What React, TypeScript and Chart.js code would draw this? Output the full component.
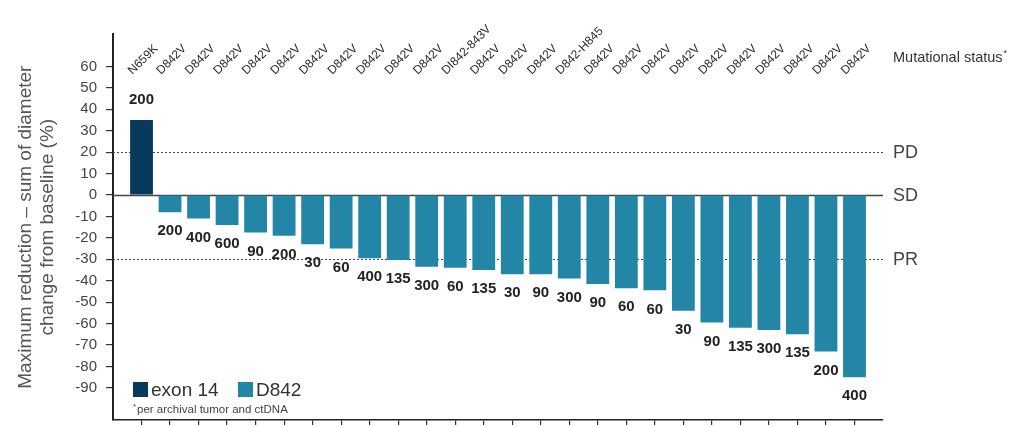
import React, { useEffect, useRef } from 'react';
import { Chart, registerables } from 'chart.js';

Chart.register(...registerables);

const mutations = [
  'N659K', 'D842V', 'D842V', 'D842V', 'D842V', 'D842V', 'D842V', 'D842V', 'D842V', 'D842V', 'D842V',
  'DI842-843V', 'D842V', 'D842V', 'D842V', 'D842-H845', 'D842V', 'D842V', 'D842V', 'D842V', 'D842V',
  'D842V', 'D842V', 'D842V', 'D842V', 'D842V',
];
const groups = [
  'exon 14', 'D842', 'D842', 'D842', 'D842', 'D842', 'D842', 'D842', 'D842', 'D842', 'D842',
  'D842', 'D842', 'D842', 'D842', 'D842', 'D842', 'D842', 'D842', 'D842', 'D842',
  'D842', 'D842', 'D842', 'D842', 'D842',
];
const reductions = [
  35, -8, -11, -14, -17.5, -19, -23, -25, -29.5, -30.3, -33.5, -34, -35, -37, -37, -39,
  -41.5, -43.5, -44.5, -54, -59.5, -62, -63, -65, -73, -85,
];
const doses = [
  200, 200, 400, 600, 90, 200, 30, 60, 400, 135, 300, 60, 135, 30, 90, 300,
  90, 60, 60, 30, 90, 135, 300, 135, 200, 400,
];
const yTickValues = [60, 50, 40, 30, 20, 10, 0, -10, -20, -30, -40, -50, -60, -70, -80, -90];
const legendGroups = ['exon 14', 'D842'];
const thresholdLabels = ['PD', 'SD', 'PR'];
const thresholdValues = [20, 0, -30];
const yTitle = ['Maximum reduction \u2013 sum of diameter', 'change from baseline (%)'];
const footnote = 'per archival tumor and ctDNA';
const mutationTitle = 'Mutational status';

const FONT = "'Liberation Sans', Arial, Helvetica, sans-serif";
const groupColors: Record<string, string> = { 'exon 14': '#073a5c', D842: '#2386a7' };

const overlay = {
  id: 'overlay',
  beforeDatasetsDraw(chart: any) {
    const { ctx, chartArea: ca, scales } = chart;
    const y = scales.y;
    ctx.save();
    thresholdValues.forEach((v) => {
      const py = Math.round(y.getPixelForValue(v)) + 0.5;
      ctx.beginPath();
      if (v === 0) {
        ctx.setLineDash([]);
        ctx.strokeStyle = '#444';
        ctx.lineWidth = 1.5;
      } else {
        ctx.setLineDash([2, 2]);
        ctx.strokeStyle = '#444';
        ctx.lineWidth = 1;
      }
      ctx.moveTo(ca.left, py);
      ctx.lineTo(ca.right, py);
      ctx.stroke();
    });
    ctx.restore();
  },
  afterDatasetsDraw(chart: any) {
    const { ctx, chartArea: ca, scales } = chart;
    const y = scales.y;
    const meta = chart.getDatasetMeta(0);
    ctx.save();
    // dose labels
    ctx.font = `bold 15px ${FONT}`;
    ctx.fillStyle = '#222';
    ctx.textAlign = 'center';
    ctx.textBaseline = 'middle';
    meta.data.forEach((el: any, i: number) => {
      const v = reductions[i];
      const py = v >= 0 ? el.y - 20 : el.y + 19;
      ctx.fillText(String(doses[i]), el.x, py);
    });
    // mutation labels
    ctx.font = `12px ${FONT}`;
    ctx.fillStyle = '#2a2a2a';
    ctx.textAlign = 'left';
    ctx.textBaseline = 'alphabetic';
    meta.data.forEach((el: any, i: number) => {
      ctx.save();
      ctx.translate(el.x - 9, 75);
      ctx.rotate(-Math.PI / 4);
      ctx.fillText(mutations[i], 0, 0);
      ctx.restore();
    });
    // mutational status title
    ctx.font = `14.5px ${FONT}`;
    ctx.fillStyle = '#333';
    ctx.textBaseline = 'middle';
    ctx.fillText(mutationTitle, 893, 58);
    const mw = ctx.measureText(mutationTitle).width;
    ctx.font = `9px ${FONT}`;
    ctx.fillText('*', 893 + mw + 1, 54);
    // threshold labels
    ctx.font = `18px ${FONT}`;
    ctx.fillStyle = '#444';
    ctx.textBaseline = 'middle';
    thresholdValues.forEach((v, i) => {
      ctx.fillText(thresholdLabels[i], ca.right + 10, y.getPixelForValue(v) + 1);
    });
    // legend
    let lx = 133;
    const ly = 382;
    legendGroups.forEach((g) => {
      ctx.fillStyle = groupColors[g];
      ctx.fillRect(lx, ly, 15, 15);
      ctx.font = `19px ${FONT}`;
      ctx.fillStyle = '#333';
      ctx.textBaseline = 'middle';
      ctx.fillText(g, lx + 18, ly + 8.5);
      lx += 105;
    });
    // footnote
    ctx.font = `8px ${FONT}`;
    ctx.fillStyle = '#444';
    ctx.fillText('*', 133, 407);
    ctx.font = `11.5px ${FONT}`;
    ctx.fillText(footnote, 137, 410);
    ctx.restore();
  },
};

export default function App() {
  const ref = useRef<HTMLCanvasElement>(null);
  useEffect(() => {
    document.body.style.margin = '0';
    const canvas = ref.current;
    if (!canvas) return;
    const chart = new Chart(canvas, {
      type: 'bar',
      data: {
        datasets: [
          {
            data: reductions.map((v, i) => ({ x: i, y: v })),
            backgroundColor: groups.map((g) => groupColors[g]),
            borderWidth: 0,
            barPercentage: 0.8,
            categoryPercentage: 1,
          },
        ],
      },
      options: {
        animation: false,
        responsive: false,
        maintainAspectRatio: false,
        layout: { padding: { left: 0, right: 129, top: 34.3, bottom: 0 } },
        plugins: { legend: { display: false }, tooltip: { enabled: false } },
        scales: {
          x: {
            type: 'linear',
            min: -1,
            max: mutations.length,
            offset: false,
            grid: { offset: false, drawOnChartArea: false, drawTicks: true, tickLength: 5, color: '#333', lineWidth: 1.2 },
            border: { display: true, color: '#222', width: 1.5 },
            ticks: { display: false },
            afterBuildTicks: (scale: any) => {
              scale.ticks = mutations.map((_, i) => ({ value: i }));
            },
            afterFit: (scale: any) => {
              scale.height = 7;
              scale.paddingLeft = 0;
              scale.paddingRight = 0;
            },
          },
          y: {
            type: 'linear',
            min: -105,
            max: 75,
            grid: { drawOnChartArea: false, drawTicks: true, tickLength: 7, color: '#333', lineWidth: 1.2 },
            border: { display: true, color: '#222', width: 2 },
            ticks: {
              padding: 9,
              color: '#444',
              font: { size: 15, family: FONT },
            },
            afterBuildTicks: (scale: any) => {
              scale.ticks = yTickValues.map((v) => ({ value: v }));
            },
            title: {
              display: true,
              text: yTitle,
              color: '#555',
              font: { size: 19, family: FONT },
              padding: { top: 14, bottom: 0 },
            },
            afterFit: (scale: any) => {
              scale.width = 113;
              scale.paddingTop = 0;
              scale.paddingBottom = 0;
            },
          },
        },
      },
      plugins: [overlay],
    } as any);
    return () => chart.destroy();
  }, []);
  return (
    <div style={{ width: 1012, height: 427 }}>
      <canvas ref={ref} width={1012} height={427} />
    </div>
  );
}
